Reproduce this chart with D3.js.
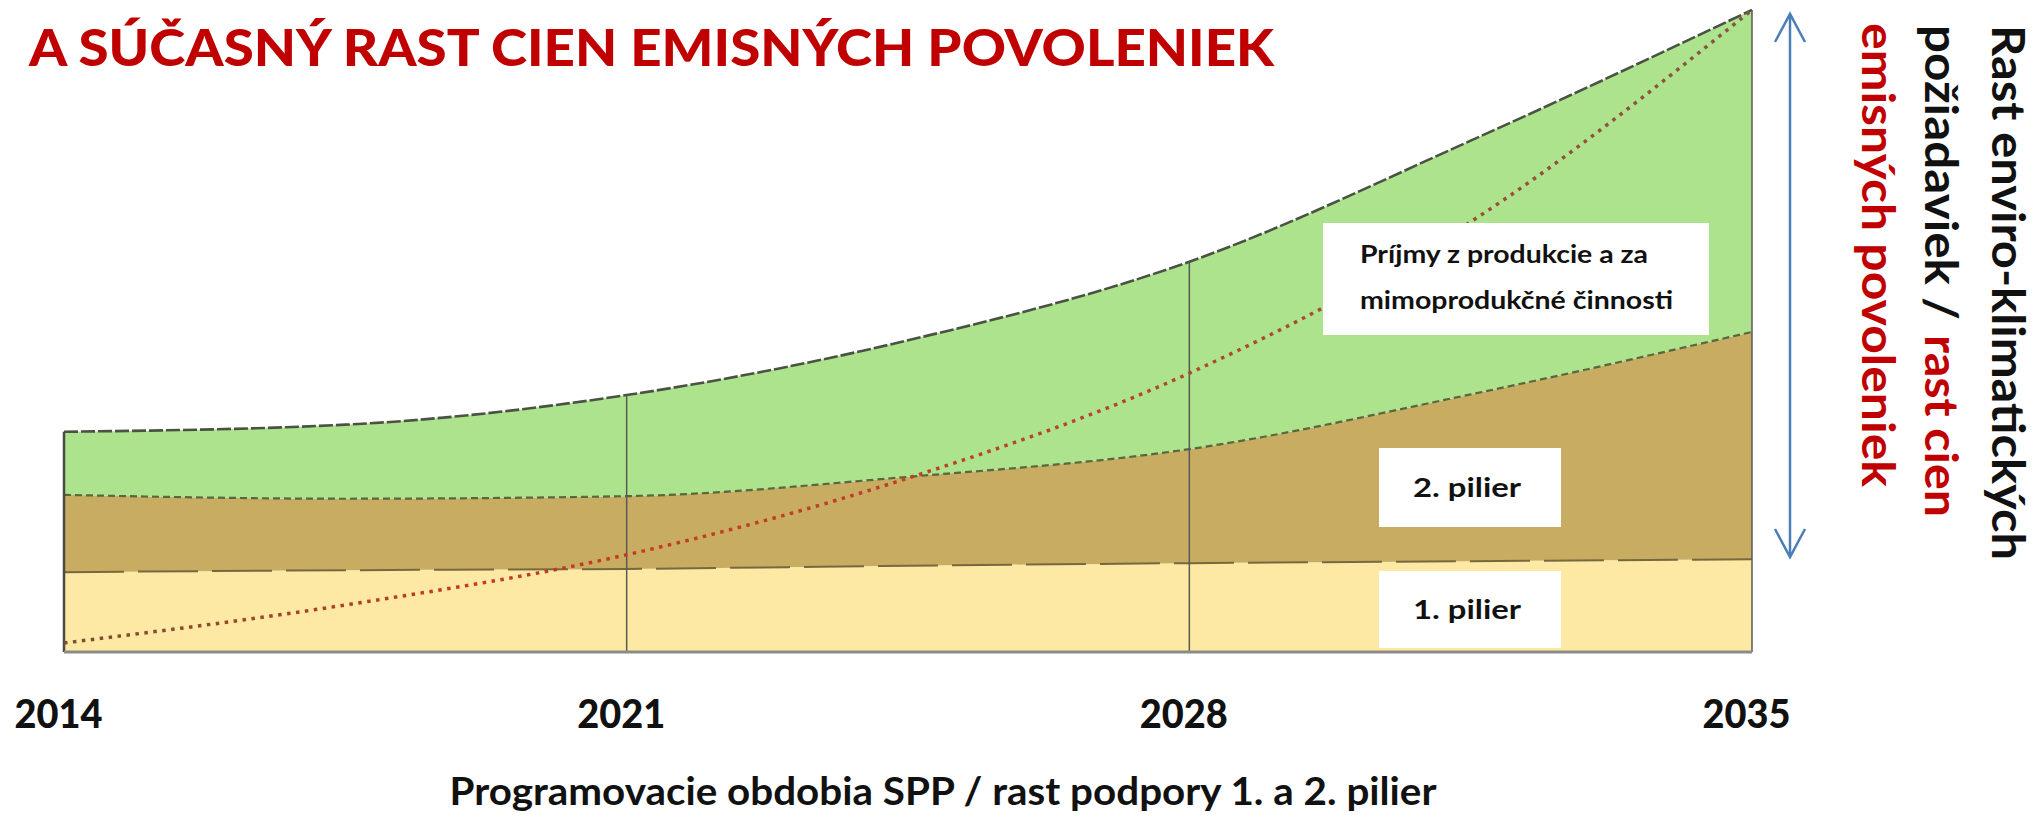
<!DOCTYPE html>
<html>
<head>
<meta charset="utf-8">
<script src="https://cdn.jsdelivr.net/npm/d3@7"></script>
<style>
  body { margin: 0; background: #fff; }
  svg { display: block; font-family: Lato, "Open Sans", sans-serif; }
</style>
</head>
<body>
<svg width="2043" height="815"></svg>
<script>

//data (arbitrary units, 0 = base of the chart)
var years = [2014, 2017.5, 2021, 2024.5, 2028, 2031.5, 2035];
var pilier1 = [12.4, 12.7, 12.9, 13.4, 13.8, 14.1, 14.4];
var pilier2 = [12.0, 11.1, 11.3, 13.8, 17.7, 25.9, 35.3];
var prijmy = [9.8, 11.5, 15.7, 21.2, 29.1, 39.4, 50.0];
var emisie = [1.4, 7.3, 15.1, 27.0, 43.3, 66.8, 99.7];

var tickYears = [2014, 2021, 2028, 2035];
var layerKeys = ["pilier1", "pilier2", "prijmy"];
var layerColours = {pilier1: "#fde9a3", pilier2: "#c8ac62", prijmy: "#ade38c"};

var svg = d3.select("svg"),
    width = +svg.attr("width"),
    height = +svg.attr("height");

//build rows for the stack
var rows = years.map(function (yr, i) {
    return {year: yr, pilier1: pilier1[i], pilier2: pilier2[i], prijmy: prijmy[i], emisie: emisie[i]};
});

var x = d3.scaleLinear().domain([2014, 2035]).range([64, 1752]);
var y = d3.scaleLinear().domain([0, 100]).range([652, 8]);

var stack = d3.stack().keys(layerKeys);
var series = stack(rows);

var area = d3.area()
    .curve(d3.curveMonotoneX)
    .x(function (d) { return x(d.data.year); })
    .y0(function (d) { return y(d[0]); })
    .y1(function (d) { return y(d[1]); });

var topLine = d3.line()
    .curve(d3.curveMonotoneX)
    .x(function (d) { return x(d.data.year); })
    .y(function (d) { return y(d[1]); });

//gradient for the dotted allowance-price line
var defs = svg.append("defs");
var grad = defs.append("linearGradient")
    .attr("id", "dotGrad")
    .attr("gradientUnits", "userSpaceOnUse")
    .attr("x1", x(2014)).attr("x2", x(2035))
    .attr("y1", 0).attr("y2", 0);
grad.append("stop").attr("offset", "0%").attr("stop-color", "#7a4e34");
grad.append("stop").attr("offset", "25%").attr("stop-color", "#c8381f");
grad.append("stop").attr("offset", "60%").attr("stop-color", "#b8432f");
grad.append("stop").attr("offset", "100%").attr("stop-color", "#855542");

var g = svg.append("g").attr("class", "everything");

//stacked areas
g.append("g")
    .selectAll("path")
    .data(series)
    .enter().append("path")
    .attr("d", area)
    .attr("fill", function (d) { return layerColours[d.key]; });

//boundary lines between the layers
var lineStyles = {
    pilier1: {stroke: "#77693f", width: 2, dash: "60,14"},
    pilier2: {stroke: "#55683e", width: 2.2, dash: "7,4"},
    prijmy: {stroke: "#4a5244", width: 2.6, dash: "14,3"}
};
g.append("g")
    .selectAll("path")
    .data(series)
    .enter().append("path")
    .attr("d", topLine)
    .attr("fill", "none")
    .attr("stroke", function (d) { return lineStyles[d.key].stroke; })
    .attr("stroke-width", function (d) { return lineStyles[d.key].width; })
    .attr("stroke-dasharray", function (d) { return lineStyles[d.key].dash; });

//vertical period lines, from the base up to the top layer
var topSeries = series[series.length - 1];
var periodLines = topSeries.filter(function (d) { return tickYears.indexOf(d.data.year) >= 0; });
g.append("g")
    .selectAll("line")
    .data(periodLines)
    .enter().append("line")
    .attr("x1", function (d) { return x(d.data.year); })
    .attr("x2", function (d) { return x(d.data.year); })
    .attr("y1", y(0))
    .attr("y2", function (d) { return y(d[1]); })
    .attr("stroke", function (d) { return d.data.year == 2014 ? "#4a4a44" : "#5a5a55"; })
    .attr("stroke-width", function (d) { return d.data.year == 2014 ? 2.5 : 1.5; });

//base line
g.append("line")
    .attr("x1", x(2014)).attr("x2", x(2035))
    .attr("y1", y(0)).attr("y2", y(0))
    .attr("stroke", "#8a8a86")
    .attr("stroke-width", 3);

//dotted line
var dotLine = d3.line()
    .curve(d3.curveMonotoneX)
    .x(function (d) { return x(d.year); })
    .y(function (d) { return y(d.emisie); });

g.append("path")
    .datum(rows)
    .attr("d", dotLine)
    .attr("fill", "none")
    .attr("stroke", "url(#dotGrad)")
    .attr("stroke-width", 3.5)
    .attr("stroke-dasharray", "3.5,5.5");

//white label boxes
var boxes = [
    {x: 1323, y: 223, w: 386, h: 112, lines: [
        {text: "Príjmy z produkcie a za", x: 1360, y: 263, len: 288},
        {text: "mimoprodukčné činnosti", x: 1360, y: 309, len: 313}], size: 25},
    {x: 1379, y: 448, w: 182, h: 79, lines: [
        {text: "2. pilier", x: 1413, y: 497, len: 108}], size: 27},
    {x: 1379, y: 571, w: 182, h: 77, lines: [
        {text: "1. pilier", x: 1413, y: 619, len: 108}], size: 27}
];

boxes.forEach(function (b) {
    svg.append("rect")
        .attr("x", b.x).attr("y", b.y)
        .attr("width", b.w).attr("height", b.h)
        .attr("fill", "#fff");
    b.lines.forEach(function (l) {
        svg.append("text")
            .attr("x", l.x).attr("y", l.y)
            .attr("textLength", l.len)
            .attr("lengthAdjust", "spacingAndGlyphs")
            .style("font-size", b.size + "px")
            .style("font-weight", "bold")
            .attr("fill", "#111")
            .text(l.text);
    });
});

//x axis with year labels
var xAxis = d3.axisBottom(x)
    .tickValues(tickYears)
    .tickFormat(d3.format("d"))
    .tickSize(0)
    .tickPadding(48);

var axisG = svg.append("g")
    .attr("transform", "translate(-6," + y(0) + ")")
    .call(xAxis);
axisG.select(".domain").remove();
axisG.selectAll("text")
    .style("font-family", "Lato, sans-serif")
    .style("font-size", "39px")
    .style("font-weight", "900")
    .attr("fill", "#111")
    .attr("textLength", 88)
    .attr("lengthAdjust", "spacingAndGlyphs");

//axis title
svg.append("text")
    .attr("x", 943).attr("y", 805)
    .attr("text-anchor", "middle")
    .attr("textLength", 987)
    .attr("lengthAdjust", "spacingAndGlyphs")
    .style("font-size", "39px")
    .style("font-weight", "bold")
    .attr("fill", "#111")
    .text("Programovacie obdobia SPP / rast podpory 1. a 2. pilier");

//title
svg.append("text")
    .attr("x", 29).attr("y", 66)
    .attr("textLength", 1245)
    .attr("lengthAdjust", "spacingAndGlyphs")
    .style("font-size", "51px")
    .style("font-weight", "900")
    .attr("fill", "#c00000")
    .text("A SÚČASNÝ RAST CIEN EMISNÝCH POVOLENIEK");

//blue double arrow
var arrowX = 1790, arrowTop = 14, arrowBottom = 557;
var arrowG = svg.append("g")
    .attr("fill", "none")
    .attr("stroke", "#4a7ebb")
    .attr("stroke-width", 2.5);
arrowG.append("line")
    .attr("x1", arrowX).attr("x2", arrowX)
    .attr("y1", arrowTop).attr("y2", arrowBottom);
arrowG.append("path")
    .attr("d", "M" + (arrowX - 15) + "," + (arrowTop + 28) + "L" + arrowX + "," + arrowTop + "L" + (arrowX + 15) + "," + (arrowTop + 28));
arrowG.append("path")
    .attr("d", "M" + (arrowX - 15) + "," + (arrowBottom - 28) + "L" + arrowX + "," + arrowBottom + "L" + (arrowX + 15) + "," + (arrowBottom - 28));

//rotated side text
var sideText = [
    {text: "Rast enviro-klimatických", x: 1992, y: 25, len: 535, fill: "#111"},
    {text: "požiadaviek /", x: 1925, y: 25, len: 295, fill: "#111"},
    {text: "rast cien", x: 1925, y: 335, len: 182, fill: "#c00000"},
    {text: "emisných povoleniek", x: 1862, y: 23, len: 464, fill: "#c00000"}
];
svg.append("g")
    .selectAll("text")
    .data(sideText)
    .enter().append("text")
    .attr("transform", function (d) { return "translate(" + d.x + "," + d.y + ") rotate(90)"; })
    .attr("textLength", function (d) { return d.len; })
    .attr("lengthAdjust", "spacingAndGlyphs")
    .style("font-size", "45px")
    .style("font-weight", "bold")
    .attr("fill", function (d) { return d.fill; })
    .text(function (d) { return d.text; });

</script>
</body>
</html>
